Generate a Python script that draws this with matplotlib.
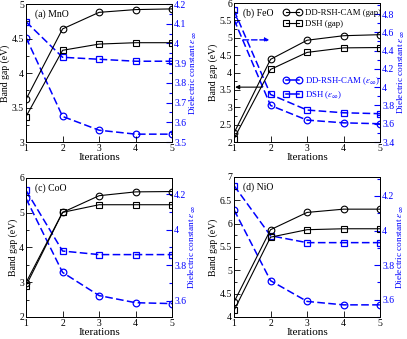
import matplotlib
matplotlib.use("Agg")
import matplotlib.pyplot as plt
from matplotlib.ticker import MultipleLocator, FuncFormatter
from matplotlib.lines import Line2D

plt.rcParams['font.family'] = ['Liberation Serif', 'DejaVu Serif']
plt.rcParams['mathtext.fontset'] = 'stix'

iterations = [1, 2, 3, 4, 5]

# (a) MnO
mno_cam_gap = [3.62, 4.64, 4.88, 4.92, 4.93]
mno_dsh_gap = [3.37, 4.33, 4.42, 4.44, 4.44]
mno_cam_eps = [4.03, 3.63, 3.56, 3.54, 3.54]
mno_dsh_eps = [4.11, 3.93, 3.92, 3.91, 3.91]
# (b) FeO
feo_cam_gap = [2.26, 4.38, 4.93, 5.06, 5.09]
feo_dsh_gap = [2.10, 4.09, 4.58, 4.71, 4.72]
feo_cam_eps = [4.74, 3.80, 3.64, 3.61, 3.60]
feo_dsh_eps = [4.84, 3.92, 3.75, 3.72, 3.71]
# (c) CoO
coo_cam_gap = [2.99, 5.01, 5.49, 5.60, 5.61]
coo_dsh_gap = [2.90, 5.01, 5.23, 5.23, 5.23]
coo_cam_eps = [4.175, 3.76, 3.63, 3.59, 3.585]
coo_dsh_eps = [4.22, 3.88, 3.86, 3.86, 3.86]
# (d) NiO
nio_cam_gap = [4.32, 5.87, 6.24, 6.31, 6.31]
nio_dsh_gap = [4.14, 5.71, 5.87, 5.89, 5.89]
nio_cam_eps = [4.12, 3.71, 3.59, 3.57, 3.57]
nio_dsh_eps = [4.26, 3.97, 3.93, 3.93, 3.93]

panels = [
    dict(label="(a) MnO", cg=mno_cam_gap, dg=mno_dsh_gap, ce=mno_cam_eps, de=mno_dsh_eps,
         gl=(3, 5), gmaj=0.5, gmin=0.25, el=(3.5, 4.2), emaj=0.1, emin=0.05,
         pos=[0.064, 0.581, 0.359, 0.407]),
    dict(label="(b) FeO", cg=feo_cam_gap, dg=feo_dsh_gap, ce=feo_cam_eps, de=feo_dsh_eps,
         gl=(2, 6), gmaj=0.5, gmin=0.25, el=(3.4, 4.92), emaj=0.2, emin=0.1,
         pos=[0.575, 0.581, 0.359, 0.410]),
    dict(label="(c) CoO", cg=coo_cam_gap, dg=coo_dsh_gap, ce=coo_cam_eps, de=coo_dsh_eps,
         gl=(2, 6), gmaj=1, gmin=0.5, el=(3.51, 4.29), emaj=0.2, emin=0.1,
         pos=[0.064, 0.065, 0.359, 0.410]),
    dict(label="(d) NiO", cg=nio_cam_gap, dg=nio_dsh_gap, ce=nio_cam_eps, de=nio_dsh_eps,
         gl=(4, 7), gmaj=0.5, gmin=0.25, el=(3.50, 4.31), emaj=0.2, emin=0.1,
         pos=[0.575, 0.065, 0.359, 0.413]),
]

fig = plt.figure(figsize=(4.07, 3.39), dpi=100)
fs = 7
blue = '#0000ff'
ms_c = 4.8
ms_s = 3.9
dash = (5, 2.2)
fmt = FuncFormatter(lambda v, _: ('%g' % round(v, 3)))

for i, p in enumerate(panels):
    ax = fig.add_axes(p['pos'])
    ax2 = ax.twinx()
    ax.set_zorder(ax2.get_zorder() + 1)
    ax.patch.set_visible(False)
    ax.plot(iterations, p['cg'], color='black', lw=0.8, marker='o', ms=ms_c, mfc='none', mew=0.8)
    ax.plot(iterations, p['dg'], color='black', lw=0.8, marker='s', ms=ms_s, mfc='none', mew=0.8)
    ax2.plot(iterations, p['ce'], color=blue, lw=1.1, ls=(0, dash), marker='o', ms=ms_c, mfc='none', mew=0.9)
    ax2.plot(iterations, p['de'], color=blue, lw=1.1, ls=(0, dash), marker='s', ms=ms_s, mfc='none', mew=0.9)
    ax.set_xlim(1, 5)
    ax.set_ylim(*p['gl'])
    ax2.set_ylim(*p['el'])
    ax.xaxis.set_major_locator(MultipleLocator(1))
    ax.yaxis.set_major_locator(MultipleLocator(p['gmaj']))
    ax.yaxis.set_minor_locator(MultipleLocator(p['gmin']))
    ax2.yaxis.set_major_locator(MultipleLocator(p['emaj']))
    ax2.yaxis.set_minor_locator(MultipleLocator(p['emin']))
    ax.tick_params(axis='both', which='major', direction='in', length=4, width=0.6, labelsize=fs, pad=1.5)
    ax.tick_params(axis='y', which='minor', direction='in', length=2, width=0.6)
    ax2.tick_params(axis='y', which='major', direction='in', length=4, width=0.8, colors=blue, labelsize=fs, pad=1.5)
    ax2.tick_params(axis='y', which='minor', direction='in', length=2, width=0.8, colors=blue)
    ax.yaxis.set_major_formatter(fmt)
    ax2.yaxis.set_major_formatter(fmt)
    for a in (ax, ax2):
        for s in a.spines.values():
            s.set_linewidth(0.7)
    ax.set_ylabel("Band gap (eV)", fontsize=fs, labelpad=1)
    ax2.set_ylabel(r"Dielectric constant $\varepsilon_\infty$", fontsize=fs - 0.3, color=blue, labelpad=0.5)
    ax.set_xlabel("Iterations", fontsize=fs + 1, labelpad=0)
    ax.text(0.06, 0.96, p['label'], transform=ax.transAxes, fontsize=fs, va='top', ha='left')

    if i == 1:
        h1 = Line2D([], [], color='black', lw=0.8, marker='o', ms=ms_c, mfc='none', mew=0.8)
        h2 = Line2D([], [], color='black', lw=0.8, marker='s', ms=ms_s, mfc='none', mew=0.8)
        leg1 = ax.legend([h1, h2], ["DD-RSH-CAM (gap)", "DSH (gap)"], loc='upper left',
                         bbox_to_anchor=(0.34, 0.955), frameon=False, fontsize=6.3,
                         numpoints=2, handlelength=2.0, handletextpad=0.4, labelspacing=0.3,
                         borderaxespad=0, borderpad=0)
        ax.add_artist(leg1)
        h3 = Line2D([], [], color=blue, lw=1.1, marker='o', ms=ms_c, mfc='none', mew=0.9)
        h4 = Line2D([], [], color=blue, lw=1.1, marker='s', ms=ms_s, mfc='none', mew=0.9)
        leg2 = ax.legend([h3, h4], [r"DD-RSH-CAM ($\varepsilon_\infty$)", r"DSH ($\varepsilon_\infty$)"],
                         loc='upper left', bbox_to_anchor=(0.34, 0.48), frameon=False,
                         fontsize=6.3, numpoints=2, handlelength=2.0, handletextpad=0.4,
                         labelspacing=0.3, borderaxespad=0, borderpad=0)
        for t in leg2.get_texts():
            t.set_color(blue)
        ax.annotate("", xy=(1.97, 4.94), xytext=(1.25, 4.94),
                    arrowprops=dict(arrowstyle='-|>', color=blue, lw=1.0, ls=(0, (4, 2)),
                                    mutation_scale=6, shrinkA=0, shrinkB=0))
        ax.annotate("", xy=(1.03, 3.58), xytext=(1.77, 3.58),
                    arrowprops=dict(arrowstyle='-|>', color='black', lw=0.8,
                                    mutation_scale=6, shrinkA=0, shrinkB=0))

fig.savefig("out.png", dpi=100)
